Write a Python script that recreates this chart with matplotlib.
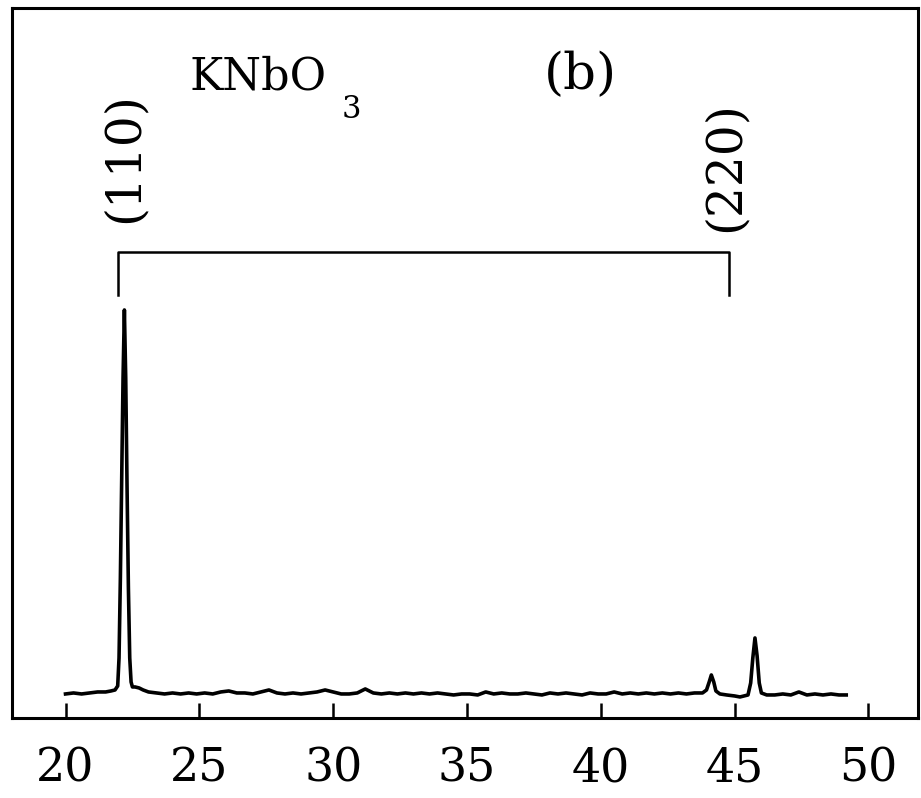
import matplotlib
matplotlib.use("Agg")
import matplotlib.pyplot as plt

plt.rcParams["font.family"] = ["DejaVu Serif"]

# XRD pattern of KNbO3 film, 2theta (deg) vs intensity (arb. units)
two_theta = [
    20.0, 20.3, 20.6, 20.9, 21.2, 21.5, 21.7, 21.85, 21.95, 22.0,
    22.05, 22.1, 22.15, 22.2, 22.25, 22.3, 22.35, 22.4, 22.45, 22.5,
    22.6, 22.75, 22.9, 23.1, 23.4, 23.7, 24.0, 24.3, 24.6, 24.9,
    25.2, 25.5, 25.8, 26.1, 26.4, 26.7, 27.0, 27.3, 27.6, 27.9,
    28.2, 28.5, 28.8, 29.1, 29.4, 29.7, 30.0, 30.3, 30.6, 30.9,
    31.2, 31.5, 31.8, 32.1, 32.4, 32.7, 33.0, 33.3, 33.6, 33.9,
    34.2, 34.5, 34.8, 35.1, 35.4, 35.7, 36.0, 36.3, 36.6, 36.9,
    37.2, 37.5, 37.8, 38.1, 38.4, 38.7, 39.0, 39.3, 39.6, 39.9,
    40.2, 40.5, 40.8, 41.1, 41.4, 41.7, 42.0, 42.3, 42.6, 42.9,
    43.2, 43.5, 43.8, 43.95, 44.05, 44.13, 44.22, 44.3, 44.45, 44.7,
    45.0, 45.2, 45.35, 45.5, 45.6, 45.68, 45.76, 45.84, 45.92, 46.0,
    46.2, 46.5, 46.8, 47.1, 47.4, 47.7, 48.0, 48.3, 48.6, 48.9, 49.17,
]
intensity = [
    24, 25, 24, 25, 26, 26, 27, 28, 32, 60,
    140, 240, 340, 408, 340, 230, 130, 60, 36, 31,
    31, 30, 28, 26, 25, 24, 25, 24, 25, 24,
    25, 24, 26, 27, 25, 25, 24, 26, 28, 25,
    24, 25, 24, 25, 26, 28, 26, 24, 24, 25,
    29, 25, 24, 25, 24, 25, 24, 25, 24, 25,
    24, 23, 24, 24, 23, 26, 24, 25, 24, 24,
    25, 24, 23, 25, 24, 25, 24, 23, 25, 24,
    24, 26, 24, 25, 24, 25, 24, 25, 24, 25,
    24, 25, 25, 28, 36, 43, 36, 27, 24, 23,
    22, 21, 22, 23, 35, 60, 80, 62, 35, 25,
    23, 23, 24, 23, 26, 23, 24, 23, 24, 23, 23,
]

# reflection indexing bracket
peak_pos = [21.98, 44.80]
peak_labels = ["(110)", "(220)"]
label_x = [22.2, 44.65]
label_y = [560, 551]
bracket_top = 466
bracket_bottom = 423

xticks = [20, 25, 30, 35, 40, 45, 50]

fig = plt.figure(figsize=(9.21, 7.98), dpi=100)
ax = fig.add_axes([0.013, 0.1003, 0.9837, 0.8897])

ax.plot(two_theta, intensity, color="black", lw=2.6)

# bracket joining the (hh0) reflections
ax.plot([peak_pos[0], peak_pos[0], peak_pos[1], peak_pos[1]],
        [bracket_bottom, bracket_top, bracket_top, bracket_bottom],
        color="black", lw=1.8)
for x, y, s in zip(label_x, label_y, peak_labels):
    ax.text(x, y, s, rotation=90, ha="center", va="center", fontsize=35)

ax.text(24.63, 628, "KNbO", ha="left", va="baseline", fontsize=32)
ax.text(30.3, 600, "3", ha="left", va="baseline", fontsize=22)
ax.text(39.24, 643, "(b)", ha="center", va="center", fontsize=37)

ax.set_xlim(18, 51.85)
ax.set_ylim(0, 710)
ax.set_xticks(xticks)
ax.set_yticks([])
ax.tick_params(axis="x", direction="in", length=11, width=1.8,
               pad=20, labelsize=33)
for sp in ax.spines.values():
    sp.set_linewidth(2.2)

fig.savefig("out.png", dpi=100)
